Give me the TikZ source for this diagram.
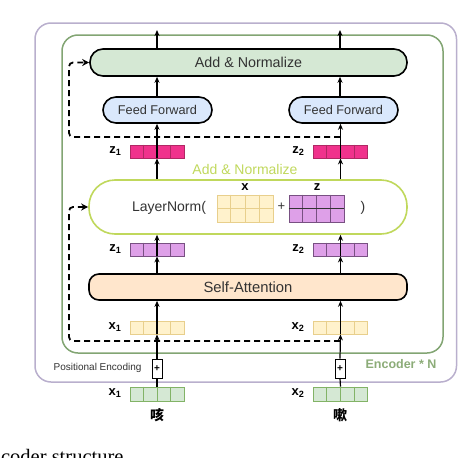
\documentclass[tikz,border=0pt]{standalone}
\usepackage{fontspec}
\setsansfont{Liberation Sans}
\setmainfont{Liberation Serif}
\newfontfamily\cjk{Noto Sans CJK SC}
\usetikzlibrary{arrows.meta,calc}

% colours of the encoder figure
\definecolor{outerline}{RGB}{185,175,205}
\definecolor{innerline}{RGB}{130,165,115}
\definecolor{normfill}{RGB}{213,232,212}
\definecolor{fffill}{RGB}{218,232,252}
\definecolor{safill}{RGB}{255,230,204}
\definecolor{lnline}{RGB}{192,216,92}
\definecolor{txtgray}{RGB}{51,51,51}
\definecolor{pinkfill}{RGB}{240,50,140}
\definecolor{pinkline}{RGB}{176,40,100}
\definecolor{violetfill}{RGB}{222,160,232}
\definecolor{violetline}{RGB}{120,80,130}
\definecolor{yelfill}{RGB}{255,242,204}
\definecolor{yelline}{RGB}{232,207,140}
\definecolor{grnline}{RGB}{130,179,102}
\definecolor{enclabel}{RGB}{140,172,120}

\tikzset{
    every node/.style={font=\sffamily, text=txtgray},
    block/.style={draw=black, line width=1.6pt, inner sep=0pt, minimum height=26pt},
    vec/.style={line width=0.8pt, inner sep=0pt, minimum width=54pt, minimum height=13pt},
    grid/.style={line width=0.8pt, inner sep=0pt, minimum width=56pt, minimum height=27pt},
    lbl/.style={font=\sffamily\fontsize{13}{13}\selectfont\bfseries, text=black, anchor=east},
    arr/.style={-{Stealth[length=6pt,width=5pt]}, line width=1.2pt},
    resid/.style={dash pattern=on 6pt off 4pt, line width=1.8pt, rounded corners=4pt,
        -{Stealth[length=7pt,width=7pt]}}
}

\begin{document}
\begin{tikzpicture}[x=1pt, y=-1pt]
    \useasboundingbox (0,0) rectangle (458,458);

    % 1. Encoder frames
    \draw[outerline, line width=1.5pt, rounded corners=16pt] (35,23) rectangle (456.5,382);
    \draw[innerline, line width=1.5pt, rounded corners=16pt] (62,35) rectangle (443,353);
    \node[font=\sffamily\fontsize{12.5}{12.5}\selectfont\bfseries, text=enclabel] (enc) at (401,364) {Encoder * N};

    % 2. Main blocks
    \node[block, fill=normfill, minimum width=317pt, minimum height=27pt, rounded corners=13pt,
        font=\sffamily\fontsize{14.3}{14.3}\selectfont] (addnorm) at (248.5,62.5) {Add \& Normalize};
    \node[block, fill=fffill, minimum width=109pt, rounded corners=13pt,
        font=\sffamily\fontsize{12.7}{12.7}\selectfont] (ff1) at (157.5,110) {Feed Forward};
    \node[block, fill=fffill, minimum width=109pt, rounded corners=13pt,
        font=\sffamily\fontsize{12.7}{12.7}\selectfont] (ff2) at (343.5,110) {Feed Forward};
    \node[draw=lnline, line width=1.6pt, fill=white, minimum width=318pt, minimum height=54pt,
        rounded corners=26pt] (ln) at (248,207) {};
    \node[block, fill=safill, minimum width=318pt, rounded corners=10pt,
        font=\sffamily\fontsize{14.8}{14.8}\selectfont] (sa) at (248,287) {Self-Attention};
    \node[font=\sffamily\fontsize{14}{14}\selectfont, text=lnline] (lntitle) at (245,169) {Add \& Normalize};

    % LayerNorm( x + z )
    \node[font=\sffamily\fontsize{14}{14}\selectfont] (lntext) at (169,208) {LayerNorm(};
    \node[grid, draw=yelline, fill=yelfill] (gx) at (245,208.5) {};
    \node[grid, draw=violetline, fill=violetfill, minimum width=55pt] (gz) at (316.5,208.5) {};
    \node[font=\sffamily\fontsize{13}{13}\selectfont] (plus) at (281.5,207) {+};
    \node[font=\sffamily\fontsize{14}{14}\selectfont] (close) at (363,208) {)};
    \node[font=\sffamily\fontsize{13}{13}\selectfont\bfseries, text=black] (gxl) at (245,187) {x};
    \node[font=\sffamily\fontsize{13}{13}\selectfont\bfseries, text=black] (gzl) at (317,187) {z};
    \foreach \g/\c in {gx/yelline, gz/violetline} {
        \foreach \i in {1,2,3}
            \draw[\c, line width=0.8pt] ($(\g.north west)!\i/4!(\g.north east)$) -- ($(\g.south west)!\i/4!(\g.south east)$);
    }
    \draw[yelline, line width=0.8pt] (gx.west) -- (gx.east);
    \draw[black!80, line width=1pt] (gz.west) -- (gz.east);

    % 3. Vectors of the two tokens
    \node[vec, draw=pinkline, fill=pinkfill] (zk1) at (157,151.5) {};
    \node[vec, draw=pinkline, fill=pinkfill] (zk2) at (340.5,151.5) {};
    \node[vec, draw=violetline, fill=violetfill] (zp1) at (157,249.5) {};
    \node[vec, draw=violetline, fill=violetfill] (zp2) at (340.5,249.5) {};
    \node[vec, draw=yelline, fill=yelfill] (xy1) at (157,327.5) {};
    \node[vec, draw=yelline, fill=yelfill] (xy2) at (340.5,327.5) {};
    \node[vec, draw=grnline, fill=normfill, minimum height=14pt] (xg1) at (157,394) {};
    \node[vec, draw=grnline, fill=normfill, minimum height=14pt] (xg2) at (340.5,394) {};
    \foreach \v/\c in {zk1/pinkline, zk2/pinkline, zp1/violetline, zp2/violetline,
                       xy1/yelline, xy2/yelline, xg1/grnline, xg2/grnline} {
        \foreach \i in {1,2,3}
            \draw[\c, line width=0.8pt] ($(\v.north west)!\i/4!(\v.north east)$) -- ($(\v.south west)!\i/4!(\v.south east)$);
    }

    % labels of the vectors
    \node[lbl] (lzk1) at (125,151) {z\textsubscript{1}};
    \node[lbl] (lzk2) at (308,151) {z\textsubscript{2}};
    \node[lbl] (lzp1) at (125,249) {z\textsubscript{1}};
    \node[lbl] (lzp2) at (308,249) {z\textsubscript{2}};
    \node[lbl] (lxy1) at (125,327) {x\textsubscript{1}};
    \node[lbl] (lxy2) at (308,327) {x\textsubscript{2}};
    \node[lbl] (lxg1) at (125,393) {x\textsubscript{1}};
    \node[lbl] (lxg2) at (308,393) {x\textsubscript{2}};
    \node[font=\cjk\bfseries\fontsize{14}{14}\selectfont, text=black] (tok1) at (157,415) {咳};
    \node[font=\cjk\bfseries\fontsize{14}{14}\selectfont, text=black] (tok2) at (340,415) {嗽};

    % positional encoding
    \node[draw=black, line width=0.8pt, fill=white, minimum width=10pt, minimum height=19pt, inner sep=0pt,
        font=\sffamily\fontsize{10}{10}\selectfont\bfseries, text=black] (pe1) at (157,368.5) {+};
    \node[draw=black, line width=0.8pt, fill=white, minimum width=10pt, minimum height=19pt, inner sep=0pt,
        font=\sffamily\fontsize{10}{10}\selectfont\bfseries, text=black] (pe2) at (340,368.5) {+};
    \node[anchor=east, font=\sffamily\fontsize{10}{10}\selectfont] (pelbl) at (145,368) {Positional Encoding};

    % 4. Data flow, one column per token
    \coordinate (out1) at (157,30);
    \coordinate (out2) at (340,30);
    \foreach \k/\x in {1/157, 2/340} {
        \draw[line width=1.2pt] (xg\k.north) -- (pe\k.south);
        \draw[arr] (pe\k.north) -- (xy\k.south);
        \draw[arr] (xy\k.south) -- (xy\k.south |- sa.south);
        \draw[arr] (sa.north -| zp\k.south) -- (zp\k.south);
        \draw[arr] (zp\k.south) -- (zp\k.south |- ln.south);
        \draw[arr] (ln.north -| zk\k.south) -- (zk\k.south);
        \draw[arr] (zk\k.south) -- (zk\k.south |- ff\k.south);
        \draw[arr] (\x,97) -- (addnorm.south -| out\k);
        \draw[arr] (addnorm.north -| out\k) -- (out\k);
    }

    % 5. Residual connections (dashed)
    \coordinate (res1) at (340,341);
    \coordinate (bend1) at (69,341);
    \coordinate (res2) at (340,137);
    \coordinate (bend2) at (69,137);
    \draw[resid] (res1) -- (bend1) |- (ln.west);
    \draw[resid] (res2) -- (bend2) |- (addnorm.west);

    % caption piece
    \node[anchor=base east, font=\rmfamily\fontsize{20.5}{20.5}\selectfont, text=black] (cap) at (127,463) {coder structure};
\end{tikzpicture}
\end{document}
